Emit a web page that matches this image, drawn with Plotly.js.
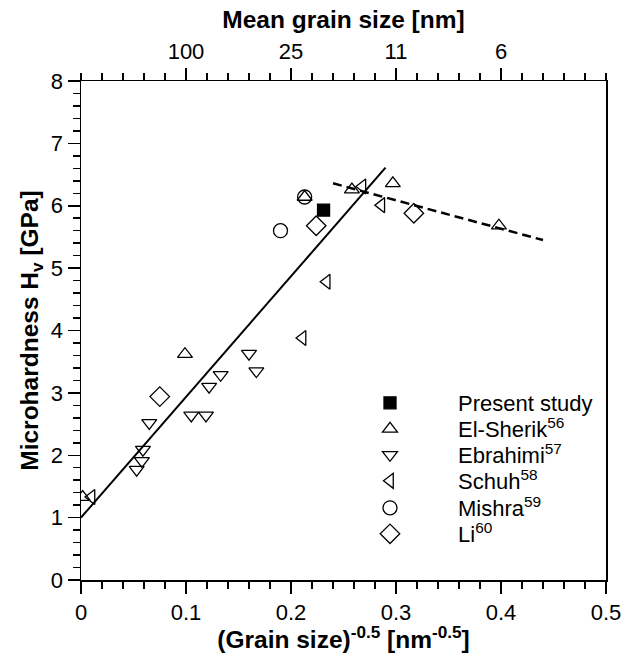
<!DOCTYPE html>
<html>
<head>
<meta charset="utf-8">
<script src="https://cdn.plot.ly/plotly-3.0.1.min.js"></script>
<style>html,body{margin:0;padding:0;background:#fff;}#chart{width:622px;height:653px;}</style>
</head>
<body>
<div id="chart"></div>
<script>
// ---- data ----
const presentX = [0.231];
const presentY = [5.93];
const elSherikX = [0.0016, 0.099, 0.213, 0.258, 0.297, 0.398];
const elSherikY = [1.33, 3.62, 6.14, 6.26, 6.36, 5.68];
const ebrahimiX = [0.053, 0.058, 0.059, 0.065, 0.105, 0.119, 0.122, 0.133, 0.160, 0.167];
const ebrahimiY = [1.77, 1.91, 2.09, 2.52, 2.64, 2.64, 3.10, 3.29, 3.63, 3.35];
const schuhX = [0.010, 0.211, 0.234, 0.268, 0.286];
const schuhY = [1.33, 3.88, 4.78, 6.31, 6.01];
const mishraX = [0.190, 0.213];
const mishraY = [5.60, 6.14];
const liX = [0.075, 0.224, 0.317];
const liY = [2.94, 5.68, 5.88];
const fitHPX = [0.0, 0.290];
const fitHPY = [1.0, 6.61];
const fitInvX = [0.240, 0.440];
const fitInvY = [6.36, 5.45];
const bottomTickVals = [0, 0.1, 0.2, 0.3, 0.4, 0.5];
const bottomTickText = ['0', '0.1', '0.2', '0.3', '0.4', '0.5'];
const topTickVals = [0.1, 0.2, 0.3, 0.4];
const topTickText = ['100', '25', '11', '6'];
const legendNames = ['Present study', 'El-Sherik<sup>56</sup>', 'Ebrahimi<sup>57</sup>', 'Schuh<sup>58</sup>', 'Mishra<sup>59</sup>', 'Li<sup>60</sup>'];

const FONT = 'Liberation Sans, Arial, sans-serif';
const mk = (sym, size) => ({symbol: sym, size: size, color: '#000', line: {color: '#000', width: 1.3}});

const legendIds = ['legend', 'legend2', 'legend3', 'legend4', 'legend5', 'legend6'];
const traces = [
  {x: fitHPX, y: fitHPY, mode: 'lines', line: {color: '#000', width: 2}, showlegend: false, hoverinfo: 'skip'},
  {x: fitInvX, y: fitInvY, mode: 'lines', line: {color: '#000', width: 2.5, dash: '9px,5px'}, showlegend: false, hoverinfo: 'skip'},
  {x: presentX, y: presentY, mode: 'markers', name: legendNames[0], legend: legendIds[0], marker: mk('square', 12)},
  {x: elSherikX, y: elSherikY, mode: 'markers', name: legendNames[1], legend: legendIds[1], marker: mk('triangle-up-open', 13)},
  {x: ebrahimiX, y: ebrahimiY, mode: 'markers', name: legendNames[2], legend: legendIds[2], marker: mk('triangle-down-open', 13)},
  {x: schuhX, y: schuhY, mode: 'markers', name: legendNames[3], legend: legendIds[3], marker: mk('triangle-left-open', 13)},
  {x: mishraX, y: mishraY, mode: 'markers', name: legendNames[4], legend: legendIds[4], marker: mk('circle-open', 14)},
  {x: liX, y: liY, mode: 'markers', name: legendNames[5], legend: legendIds[5], marker: mk('diamond-open', 15)},
  {x: [0.25], y: [null], xaxis: 'x2', mode: 'markers', showlegend: false, hoverinfo: 'skip'}
];

const M = {l: 81, r: 16, t: 81, b: 73};
const plotH = 653 - M.t - M.b;
const plotW = 622 - M.l - M.r;
const legendRowsPx = [403, 429, 455, 481, 508, 534];
const legendLeftPx = 322;

const layout = {
  width: 622, height: 653,
  margin: M,
  paper_bgcolor: '#fff', plot_bgcolor: '#fff',
  font: {family: FONT, size: 22, color: '#000'},
  showlegend: true,
  xaxis: {
    range: [0, 0.5], tickvals: bottomTickVals, ticktext: bottomTickText,
    ticks: 'outside', ticklen: 12, tickwidth: 1.5, tickcolor: '#000',
    minor: {dtick: 0.02, ticks: 'outside', ticklen: 7, tickwidth: 1.5, tickcolor: '#000'},
    showline: true, linecolor: '#000', linewidth: 1.5, mirror: false,
    showgrid: false, zeroline: false,
    tickfont: {family: FONT, size: 22},
    title: {text: '<b>(Grain size)<sup>-0.5</sup> [nm<sup>-0.5</sup>]</b>', font: {family: FONT, size: 24.5}, standoff: 3}
  },
  xaxis2: {
    overlaying: 'x', side: 'top', matches: 'x', range: [0, 0.5],
    tickvals: topTickVals, ticktext: topTickText,
    ticks: 'outside', ticklen: 12, tickwidth: 1.5, tickcolor: '#000',
    minor: {dtick: 0.02, ticks: 'outside', ticklen: 7, tickwidth: 1.5, tickcolor: '#000'},
    showline: true, linecolor: '#000', linewidth: 1.5,
    showgrid: false, zeroline: false,
    tickfont: {family: FONT, size: 22},
    title: {text: '<b>Mean grain size [nm]</b>', font: {family: FONT, size: 24.5}, standoff: 3}
  },
  yaxis: {
    range: [0, 8], dtick: 1,
    ticks: 'outside', ticklen: 12, tickwidth: 1.5, tickcolor: '#000',
    minor: {dtick: 0.2, ticks: 'outside', ticklen: 7, tickwidth: 1.5, tickcolor: '#000'},
    showline: true, linecolor: '#000', linewidth: 1.5, mirror: true,
    showgrid: false, zeroline: false,
    tickfont: {family: FONT, size: 22},
    title: {text: '<b>Microhardness H<sub>v</sub> [GPa]</b>', font: {family: FONT, size: 24.5}, standoff: 5}
  }
};
legendIds.forEach((id, i) => {
  layout[id] = {
    x: (legendLeftPx - M.l) / plotW, y: (653 - M.b - legendRowsPx[i]) / plotH,
    xanchor: 'left', yanchor: 'middle', bgcolor: 'rgba(0,0,0,0)',
    font: {family: FONT, size: 22}, itemwidth: 126
  };
});

Plotly.newPlot('chart', traces, layout, {staticPlot: true, displayModeBar: false});
</script>
</body>
</html>
